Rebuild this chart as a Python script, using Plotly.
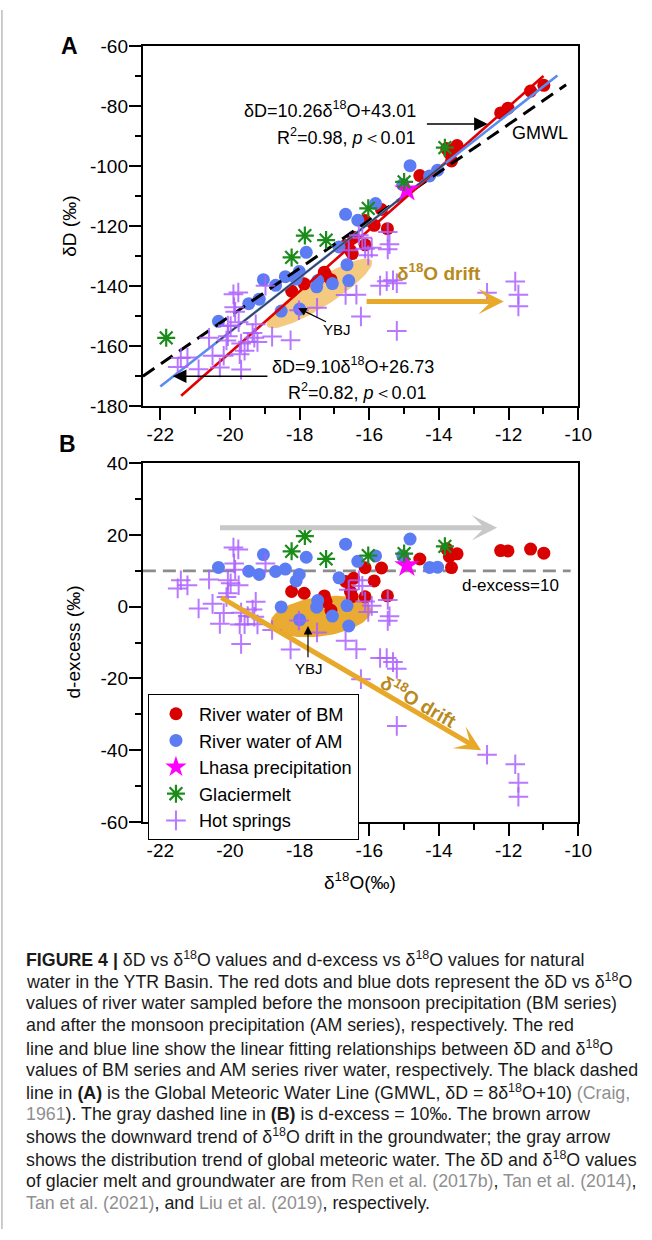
import numpy as np
import plotly.graph_objects as go

W, H = 652, 1240
FONT = "Liberation Sans, Arial, sans-serif"

# ---------------- data ----------------
# River water, before monsoon (BM)
bm_d18o = [-18.23, -17.87, -17.29, -17.24, -17.10, -16.68, -16.45, -16.54, -16.49, -16.12,
           -15.86, -16.12, -15.65, -15.48, -14.55, -13.78, -13.48, -13.64, -13.70, -12.23,
           -12.02, -11.37, -10.99]
bm_dD = [-141.6, -139.2, -135.3, -136.5, -137.8, -126.4, -123.7, -128.1, -129.1, -126.2,
         -119.7, -118.1, -114.4, -120.8, -103.1, -94.1, -93.1, -98.2, -95.6, -82.2,
         -80.6, -74.9, -73.0]
# River water, after monsoon (AM)
am_d18o = [-20.33, -19.04, -19.46, -19.16, -18.69, -18.41, -17.81, -18.01, -18.10, -18.53,
           -18.00, -17.48, -17.51, -17.06, -16.87, -16.68, -16.33, -15.82, -16.64, -16.59,
           -14.83, -15.04, -14.27, -14.04]
am_dD = [-151.7, -137.8, -145.8, -144.3, -139.7, -136.8, -128.7, -135.1, -137.6, -148.3,
         -147.6, -138.1, -140.2, -139.1, -126.9, -116.0, -118.0, -112.4, -132.8, -138.1,
         -99.8, -106.1, -103.2, -101.3]
# Lhasa precipitation
lhasa_d18o = [-14.92]
lhasa_dD = [-107.8]
# Glacier melt (first point only appears in panel A)
gl_d18o = [-21.83, -18.23, -17.85, -17.24, -16.03, -15.00, -13.83]
gl_dD = [-157.2, -130.4, -123.1, -124.6, -114.0, -105.2, -93.8]
gl_in_b = [False, True, True, True, True, True, True]
# Hot springs
hs_d18o = [-21.41, -21.50, -21.22, -20.60, -20.90, -20.50, -20.29, -20.18, -19.90, -19.76,
           -19.88, -19.85, -20.06, -19.98, -19.75, -20.06, -20.10, -19.26, -19.35, -18.98,
           -19.68, -19.49, -19.30, -19.72, -19.58, -19.21, -18.79, -19.68, -18.26, -18.02,
           -17.50, -16.59, -16.30, -16.20, -16.12, -15.93, -16.03, -15.47, -15.42, -15.47,
           -16.68, -16.37, -15.69, -15.50, -15.32, -15.21, -16.24, -15.21, -12.62, -11.81,
           -11.72, -11.72]
hs_dD = [-163.9, -166.9, -163.8, -157.2, -167.7, -163.2, -167.1, -163.2, -142.7, -142.1,
         -147.0, -148.5, -153.1, -153.3, -152.0, -156.7, -158.1, -152.7, -155.6, -139.8,
         -159.1, -158.5, -157.2, -162.7, -161.5, -158.6, -156.8, -167.8, -158.0, -148.0,
         -147.2, -128.0, -123.0, -123.8, -127.5, -127.2, -129.7, -121.9, -126.0, -127.7,
         -142.9, -142.8, -139.8, -138.3, -138.0, -139.0, -150.1, -154.9, -142.2, -138.4,
         -142.8, -146.7]

# regression lines shown in the figure
bm_fit = (10.26, 43.01)
am_fit = (9.10, 26.73)
gmwl = (8.0, 10.0)
bm_fit_range = [-21.4, -11.0]
am_fit_range = [-22.0, -10.6]
am_dark_range = [-20.4, -13.8]
gmwl_range = [-22.5, -10.35]

x_ticks = [-22, -20, -18, -16, -14, -12, -10]
yA_ticks = [-180, -160, -140, -120, -100, -80, -60]
yB_ticks = [-60, -40, -20, 0, 20, 40]


def dex(xs, ys):
    return [round(y - 8 * x, 2) for x, y in zip(xs, ys)]


def px(x):
    return x / W


def py(y):
    return 1 - y / H


# plot areas in pixels
A_L, A_R, A_T, A_B = 146, 591, 37, 403
B_L, B_R, B_T, B_B = 146, 591, 461, 826
XR = [-22.5, -10]
sx = (A_R - A_L) / (XR[1] - XR[0])
syA = (A_B - A_T) / 120.0
syB = (B_B - B_T) / 100.0

C_RED = "#d90000"
C_BLUE = "#5b7cf2"
C_MAG = "#ff00ff"
C_GRN = "#1a8c1a"
C_PUR = "rgba(172,96,255,0.85)"
C_ORG = "#e8a92b"
C_DRIFT_TXT = "#b8891c"


def ellipse(cx, cy, a_px, b_px, ang, sy):
    t = np.linspace(0, 2 * np.pi, 90)
    th = np.radians(ang)
    dx = a_px * np.cos(t) * np.cos(th) - b_px * np.sin(t) * np.sin(th)
    dy = a_px * np.cos(t) * np.sin(th) + b_px * np.sin(t) * np.cos(th)
    return cx + dx / sx, cy + dy / sy


HS_MARK = dict(symbol="cross-thin-open", size=14, color=C_PUR, line=dict(color=C_PUR, width=2))
GL_MARK = dict(symbol="asterisk-open", size=15, color=C_GRN, line=dict(color=C_GRN, width=2.2))
ST_MARK = dict(symbol="star", color=C_MAG, size=19, line=dict(width=0))

fig = go.Figure()

# ---------- Panel A ----------
ex, ey = ellipse(-17.43, -142.4, 63, 14, 32, syA)
fig.add_trace(go.Scatter(x=ex, y=ey, mode="lines", fill="toself", line=dict(width=0),
                         fillcolor="rgba(236,170,50,0.62)", hoverinfo="skip", showlegend=False,
                         xaxis="x", yaxis="y"))


def line_trace(coef, rng, color, width, dash=None, xa="x", ya="y"):
    xs = np.array(rng)
    return go.Scatter(x=xs, y=coef[0] * xs + coef[1], mode="lines",
                      line=dict(color=color, width=width, dash=dash),
                      hoverinfo="skip", showlegend=False, xaxis=xa, yaxis=ya)


fig.add_trace(go.Scatter(x=bm_d18o, y=bm_dD, mode="markers", showlegend=False,
                         marker=dict(color=C_RED, size=13), xaxis="x", yaxis="y"))
fig.add_trace(go.Scatter(x=am_d18o, y=am_dD, mode="markers", showlegend=False,
                         marker=dict(color=C_BLUE, size=13), xaxis="x", yaxis="y"))
fig.add_trace(line_trace(gmwl, gmwl_range, "black", 3, "14px,8px"))
fig.add_trace(line_trace(bm_fit, bm_fit_range, "#e00000", 2.6))
fig.add_trace(line_trace(am_fit, am_fit_range, "#5a8cf0", 2.6))
fig.add_trace(line_trace(am_fit, am_dark_range, "#3d4250", 1.6))
fig.add_trace(go.Scatter(x=hs_d18o, y=hs_dD, mode="markers", showlegend=False,
                         marker=HS_MARK, xaxis="x", yaxis="y"))
fig.add_trace(go.Scatter(x=lhasa_d18o, y=lhasa_dD, mode="markers", showlegend=False,
                         marker=ST_MARK, xaxis="x", yaxis="y"))
fig.add_trace(go.Scatter(x=gl_d18o, y=gl_dD, mode="markers", showlegend=False,
                         marker=GL_MARK, xaxis="x", yaxis="y"))

# ---------- Panel B ----------
ex, ey = ellipse(-17.39, -2.74, 52, 20, 8, syB)
fig.add_trace(go.Scatter(x=ex, y=ey, mode="lines", fill="toself", line=dict(width=0),
                         fillcolor="rgba(232,166,38,0.95)", hoverinfo="skip", showlegend=False,
                         xaxis="x2", yaxis="y2"))
fig.add_trace(go.Scatter(x=[XR[0], -10.22], y=[10, 10], mode="lines",
                         line=dict(color="#8c8c8c", width=2.6, dash="13px,7px"),
                         hoverinfo="skip", showlegend=False, xaxis="x2", yaxis="y2"))
fig.add_trace(go.Scatter(x=bm_d18o, y=dex(bm_d18o, bm_dD), mode="markers",
                         name="River water of BM", legendrank=1,
                         marker=dict(color=C_RED, size=13), xaxis="x2", yaxis="y2"))
fig.add_trace(go.Scatter(x=am_d18o, y=dex(am_d18o, am_dD), mode="markers",
                         name="River water of AM", legendrank=2,
                         marker=dict(color=C_BLUE, size=13), xaxis="x2", yaxis="y2"))
fig.add_trace(go.Scatter(x=hs_d18o, y=dex(hs_d18o, hs_dD), mode="markers",
                         name="Hot springs", legendrank=5,
                         marker=HS_MARK, xaxis="x2", yaxis="y2"))
fig.add_trace(go.Scatter(x=lhasa_d18o, y=dex(lhasa_d18o, lhasa_dD), mode="markers",
                         name="Lhasa precipitation", legendrank=3,
                         marker=ST_MARK, xaxis="x2", yaxis="y2"))
glb_x = [x for x, f in zip(gl_d18o, gl_in_b) if f]
glb_y = [y for y, f in zip(gl_dD, gl_in_b) if f]
fig.add_trace(go.Scatter(x=glb_x, y=dex(glb_x, glb_y), mode="markers",
                         name="Glaciermelt", legendrank=4,
                         marker=GL_MARK, xaxis="x2", yaxis="y2"))

# ---------- axes ----------
tickfont = dict(family=FONT, size=19, color="black")
minor = dict(ticks="outside", ticklen=6, tickwidth=2, tickcolor="black")
common = dict(showline=True, mirror=True, linecolor="black", linewidth=2.2,
              ticks="outside", ticklen=12, tickwidth=2, tickcolor="black",
              showgrid=False, zeroline=False, tickfont=tickfont, fixedrange=True)

xminor = list(range(-22, -9))
fig.update_layout(
    xaxis=dict(domain=[px(A_L), px(A_R)], range=XR, anchor="y",
               tickvals=x_ticks, ticktext=[str(v) for v in x_ticks], ticklabelstandoff=-2,
               minor=dict(tickvals=xminor, **minor), **common),
    yaxis=dict(domain=[py(A_B), py(A_T)], range=[-180, -60], anchor="x",
               tickvals=yA_ticks, ticktext=[str(v) for v in yA_ticks], ticklabelstandoff=-3,
               minor=dict(tickvals=list(range(-180, -59, 10)), **minor), **common),
    xaxis2=dict(domain=[px(B_L), px(B_R)], range=XR, anchor="y2",
                tickvals=x_ticks, ticktext=[str(v) for v in x_ticks], ticklabelstandoff=-2,
                minor=dict(tickvals=xminor, **minor), **common),
    yaxis2=dict(domain=[py(B_B), py(B_T)], range=[-60, 40], anchor="x2",
                tickvals=yB_ticks, ticktext=[str(v) for v in yB_ticks], ticklabelstandoff=-3,
                minor=dict(tickvals=list(range(-60, 41, 10)), **minor), **common),
)

# ---------- annotations ----------
ann = []


def txt(x, y, text, size=18, xref="x", yref="y", xa="center", ya="middle", color="black",
        angle=0, bold=False, family=FONT):
    ann.append(dict(x=x, y=y, xref=xref, yref=yref, text=("<b>%s</b>" % text) if bold else text,
                    showarrow=False, xanchor=xa, yanchor=ya, textangle=angle,
                    font=dict(family=family, size=size, color=color)))


def arrow(x0, y0, x1, y1, color, width, head, size, xref="x", yref="y"):
    ann.append(dict(x=x1, y=y1, ax=x0, ay=y0, xref=xref, yref=yref, axref=xref, ayref=yref,
                    text="", showarrow=True, arrowhead=head, arrowsize=size,
                    arrowwidth=width, arrowcolor=color))


# panel A
txt(-14.6, -81.2, "δD=10.26δ<sup>18</sup>O+43.01", xa="right")
txt(-14.6, -89.9, "R<sup>2</sup>=0.98, <i>p</i>＜0.01", xa="right")
arrow(-14.39, -85.9, -12.6, -85.9, "black", 1.6, 2, 1.7)
txt(-11.11, -88.9, "GMWL")
txt(-18.84, -166.5, "δD=9.10δ<sup>18</sup>O+26.73", xa="left")
txt(-18.39, -175.2, "R<sup>2</sup>=0.82, <i>p</i>＜0.01", xa="left")
arrow(-18.88, -170.0, -21.64, -170.0, "black", 1.6, 2, 1.7)
txt(-16.92, -154.4, "YBJ", size=15)
arrow(-17.2, -152.1, -18.04, -147.3, "black", 1.2, 2, 1.4)
arrow(-16.12, -145.1, -12.14, -145.1, C_ORG, 5, 3, 0.85)
txt(-14.01, -135.3, "δ<sup>18</sup>O drift", size=19, color=C_DRIFT_TXT, bold=True)

# panel B
arrow(-20.33, 22.0, -12.33, 22.0, "#c8c8c8", 5, 3, 0.85, xref="x2", yref="y2")
arrow(-20.29, 2.8, -12.79, -40.0, C_ORG, 5, 3, 0.85, xref="x2", yref="y2")
txt(-14.56, -26.3, "δ<sup>18</sup>O drift", size=19, color=C_DRIFT_TXT, bold=True, angle=30,
    xref="x2", yref="y2")
txt(-11.96, 6.0, "d-excess=10", size=17, xref="x2", yref="y2")
txt(-17.74, -17.3, "YBJ", size=15, xref="x2", yref="y2")
arrow(-17.76, -14.5, -17.76, -5.4, "black", 1.2, 2, 1.4, xref="x2", yref="y2")

# panel letters and axis titles
txt(px(71), py(37), "A", size=23, xref="paper", yref="paper", bold=True)
txt(px(69), py(441), "B", size=23, xref="paper", yref="paper", bold=True)
txt(px(71), py(220), "δD (‰)", size=19, xref="paper", yref="paper", angle=-90)
txt(px(75), py(643), "d-excess (‰)", size=19, xref="paper", yref="paper", angle=-90)
txt(px(368), py(886), "δ<sup>18</sup>O(‰)", size=19, xref="paper", yref="paper")

# caption
G = "<span style='color:#8f8f8f'>%s</span>"
caption = [
    "<b>FIGURE 4 |</b> δD vs δ<sup>18</sup>O values and d-excess vs δ<sup>18</sup>O values for natural",
    "water in the YTR Basin. The red dots and blue dots represent the δD vs δ<sup>18</sup>O",
    "values of river water sampled before the monsoon precipitation (BM series)",
    "and after the monsoon precipitation (AM series), respectively. The red",
    "line and blue line show the linear fitting relationships between δD and δ<sup>18</sup>O",
    "values of BM series and AM series river water, respectively. The black dashed",
    "line in <b>(A)</b> is the Global Meteoric Water Line (GMWL, δD = 8δ<sup>18</sup>O+10) " + G % "(Craig,",
    G % "1961" + "). The gray dashed line in <b>(B)</b> is d-excess = 10‰. The brown arrow",
    "shows the downward trend of δ<sup>18</sup>O drift in the groundwater; the gray arrow",
    "shows the distribution trend of global meteoric water. The δD and δ<sup>18</sup>O values",
    "of glacier melt and groundwater are from " + G % "Ren et al. (2017b)" + ", " + G % "Tan et al. (2014)" + ",",
    G % "Tan et al. (2021)" + ", and " + G % "Liu et al. (2019)" + ", respectively.",
]
for i, line in enumerate(caption):
    txt(px(25), py(965 + i * 22.6), line, size=17.8, xref="paper", yref="paper", xa="left",
        color="#1a1a1a")

fig.update_layout(
    width=W, height=H, margin=dict(l=0, r=0, t=0, b=0),
    paper_bgcolor="white", plot_bgcolor="white",
    annotations=ann,
    shapes=[dict(type="line", xref="paper", yref="paper", x0=px(2), x1=px(2), y0=0, y1=1,
                 line=dict(color="#9a9a9a", width=1))],
    legend=dict(x=px(151), y=py(696), xanchor="left", yanchor="top",
                bgcolor="white", bordercolor="black", borderwidth=1.2,
                font=dict(family=FONT, size=18.2, color="black"), tracegroupgap=0,
                itemsizing="trace", itemwidth=36, indentation=4),
    font=dict(family=FONT),
)

fig.write_html("out.html", config={"displayModeBar": False},
               post_script="document.body.style.margin='0px';document.body.style.overflow='hidden';")
